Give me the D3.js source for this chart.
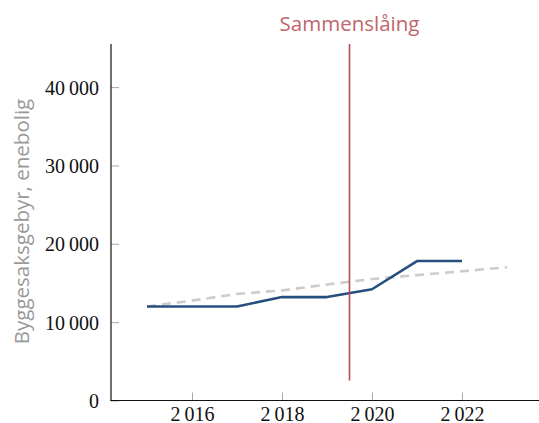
<!DOCTYPE html>
<html>
<head>
<meta charset="utf-8">
<script src="https://cdn.jsdelivr.net/npm/d3@7"></script>
<style>
  html, body { margin: 0; padding: 0; background: #fff; }
  svg { display: block; }
</style>
</head>
<body>
<svg id="chart" width="539" height="423"></svg>
<script>
const years = [2015, 2016, 2017, 2018, 2019, 2020, 2021, 2022];
const fee = [12000, 12000, 12000, 13200, 13200, 14200, 17800, 17800];
const trendYears = [2015, 2016, 2017, 2018, 2019, 2020, 2021, 2022, 2023];
const trendValues = [12000, 12750, 13600, 14050, 14800, 15500, 16000, 16500, 17000];
const xTicks = [2016, 2018, 2020, 2022];
const yTicks = [0, 10000, 20000, 30000, 40000];
const mergerYear = 2019.5;
const mergerLabel = "Sammenslåing";
const yLabel = "Byggesaksgebyr, enebolig";

const svg = d3.select("#chart");
const x = d3.scaleLinear().domain([2014.2, 2023.8]).range([111, 543]);
const y = d3.scaleLinear().domain([0, 45500]).range([400.5, 44]);

const loc = d3.formatLocale({decimal: ",", thousands: "\u2009", grouping: [3], currency: ["", ""]});
const fmt = loc.format(",d");

// y ticks (inward, gray)
const yAxis = svg.append("g").attr("transform", "translate(111,0)")
  .call(d3.axisRight(y).tickValues(yTicks).tickSize(8).tickFormat(""));
yAxis.select(".domain").remove();
yAxis.selectAll(".tick line").attr("stroke", "#aaa").attr("stroke-width", 1);
yAxis.selectAll(".tick").append("text")
  .attr("x", -12).attr("dy", "0.35em").attr("text-anchor", "end")
  .attr("fill", "#111").attr("font-family", "'Liberation Serif', serif").attr("font-size", 20)
  .text(d => fmt(d));

// x ticks (inward, gray)
const xAxis = svg.append("g").attr("transform", "translate(0,400.5)")
  .call(d3.axisTop(x).tickValues(xTicks).tickSize(8).tickFormat(""));
xAxis.select(".domain").remove();
xAxis.selectAll(".tick line").attr("stroke", "#aaa").attr("stroke-width", 1);
xAxis.selectAll(".tick").append("text")
  .attr("y", 20).attr("text-anchor", "middle")
  .attr("fill", "#111").attr("font-family", "'Liberation Serif', serif").attr("font-size", 20)
  .text(d => fmt(d));

// axis lines
svg.append("line").attr("x1", 111).attr("x2", 111).attr("y1", y.range()[1]).attr("y2", 401)
  .attr("stroke", "#111").attr("stroke-width", 1.2);
svg.append("line").attr("x1", 110.5).attr("x2", 539).attr("y1", 400.5).attr("y2", 400.5)
  .attr("stroke", "#111").attr("stroke-width", 1.2);

// trend dashed
const line = d3.line().x(d => x(d[0])).y(d => y(d[1]));
svg.append("path")
  .datum(trendYears.map((yr, i) => [yr, trendValues[i]]))
  .attr("d", line).attr("fill", "none").attr("stroke", "#cccccc")
  .attr("stroke-width", 2.6).attr("stroke-dasharray", "9,6");

// fee line
svg.append("path")
  .datum(years.map((yr, i) => [yr, fee[i]]))
  .attr("d", line).attr("fill", "none").attr("stroke", "#25507e")
  .attr("stroke-width", 2.6).attr("stroke-linejoin", "round");

// merger line
svg.append("line")
  .attr("x1", x(mergerYear)).attr("x2", x(mergerYear))
  .attr("y1", y(2550)).attr("y2", y(45500))
  .attr("stroke", "#b84a50").attr("stroke-width", 1.6);
svg.append("text")
  .attr("x", x(mergerYear)).attr("y", 31).attr("text-anchor", "middle")
  .attr("fill", "#c0656a").attr("font-family", "'Open Sans', sans-serif").attr("font-size", 20.5)
  .text(mergerLabel);

// y label
svg.append("text")
  .attr("transform", `translate(29,${221.5}) rotate(-90)`)
  .attr("text-anchor", "middle")
  .attr("fill", "#999").attr("font-family", "'Open Sans', sans-serif").attr("font-size", 20.5)
  .text(yLabel);
</script>
</body>
</html>
